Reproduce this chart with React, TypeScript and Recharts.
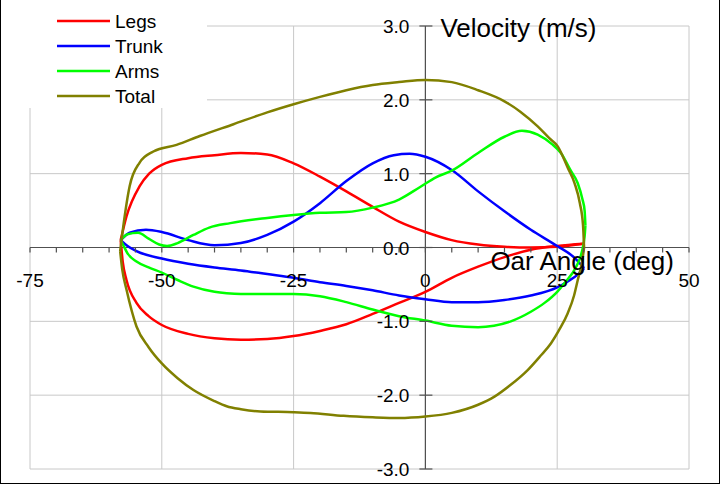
import React from "react"
import { LineChart, Line, XAxis, YAxis, CartesianGrid, ReferenceLine, ReferenceDot } from "recharts"

// oar angle (deg) vs velocity (m/s); each segment loop split into drive (upper) and recovery (lower)
const legsDrive: [number, number][] = [
  [-57.8, 0.1], [-56.7, 0.42], [-54.2, 0.83], [-52.4, 1.0], [-50, 1.12], [-45, 1.21], [-40, 1.25],
  [-35, 1.28], [-30, 1.26], [-25, 1.14], [-20, 0.96], [-15, 0.76], [-10, 0.55], [-5, 0.35], [0, 0.21],
  [5, 0.1], [10, 0.04], [15, 0.01], [20, 0.0], [25, 0.01], [30, 0.05],
]
const legsRecovery: [number, number][] = [
  [-57.8, 0.1], [-57.4, -0.2], [-56.7, -0.44], [-54.8, -0.75], [-52.5, -0.93], [-50, -1.05], [-45, -1.17],
  [-40, -1.23], [-35, -1.25], [-30, -1.24], [-25, -1.2], [-20, -1.13], [-15, -1.04], [-10, -0.9],
  [-5, -0.75], [0, -0.6], [5, -0.41], [10, -0.26], [15, -0.13], [20, -0.03], [25, 0.02], [30, 0.05],
]
const trunkDrive: [number, number][] = [
  [-57.8, 0.1], [-56.1, 0.2], [-53, 0.24], [-50, 0.21], [-45, 0.1], [-40, 0.03], [-35, 0.06], [-30, 0.17],
  [-25, 0.35], [-20, 0.6], [-15, 0.9], [-10, 1.14], [-6, 1.25], [-3, 1.27], [0, 1.23], [5, 1.05],
  [10, 0.76], [15, 0.49], [20, 0.24], [25, 0.02], [28.3, -0.14], [30.1, -0.28],
]
const trunkRecovery: [number, number][] = [
  [-57.8, 0.1], [-56.5, 0.02], [-54.8, -0.05], [-50, -0.15], [-45, -0.22], [-40, -0.27], [-35, -0.31],
  [-30, -0.36], [-25, -0.41], [-20, -0.47], [-15, -0.52], [-10, -0.58], [-5, -0.65], [0, -0.7],
  [5, -0.74], [10, -0.74], [15, -0.71], [20, -0.65], [25, -0.54], [27, -0.46], [29, -0.36], [30.1, -0.28],
]
const armsDrive: [number, number][] = [
  [-57.8, 0.1], [-56.5, 0.18], [-54.5, 0.2], [-52.5, 0.12], [-50.5, 0.04], [-49, 0.02], [-47, 0.06],
  [-44, 0.17], [-41, 0.27], [-37, 0.33], [-30, 0.4], [-25, 0.44], [-20, 0.47], [-15, 0.48], [-10, 0.54],
  [-5, 0.65], [-1, 0.82], [2, 0.95], [5, 1.04], [10, 1.28], [15, 1.5], [18.3, 1.58], [21.3, 1.53],
  [24, 1.4], [25.7, 1.28], [27.5, 1.05], [28.9, 0.87], [29.8, 0.65], [30.2, 0.5], [30.35, 0.3],
]
const armsRecovery: [number, number][] = [
  [-57.8, 0.1], [-57.3, 0.03], [-56.5, -0.08], [-54.8, -0.19], [-52.5, -0.27], [-50, -0.34], [-47, -0.44],
  [-44, -0.53], [-40, -0.6], [-37.7, -0.62], [-35, -0.63], [-30, -0.63], [-25, -0.63], [-20, -0.66],
  [-15, -0.74], [-10, -0.84], [-5, -0.93], [0, -0.99], [5, -1.06], [10, -1.08], [13, -1.06], [16.2, -1.0],
  [20, -0.87], [22.6, -0.75], [25, -0.6], [26.4, -0.48], [28.6, -0.26], [29.6, -0.08], [30.2, 0.15], [30.35, 0.3],
]
const totalDrive: [number, number][] = [
  [-57.9, -0.05], [-57.3, 0.29], [-56.1, 0.83], [-54.2, 1.15], [-51.6, 1.3], [-47.2, 1.39], [-42.8, 1.51],
  [-36.4, 1.67], [-30, 1.83], [-25, 1.94], [-20, 2.04], [-15, 2.13], [-10, 2.2], [-5, 2.24], [0, 2.27],
  [5, 2.24], [10, 2.13], [15, 1.98], [18, 1.84], [21.3, 1.64], [23.5, 1.48], [25.1, 1.37], [27, 1.08],
  [28.3, 0.87], [29.3, 0.6], [29.9, 0.3], [30.1, 0.0],
]
const totalRecovery: [number, number][] = [
  [-57.9, -0.05], [-57.5, -0.3], [-56.7, -0.57], [-54.8, -1.07], [-52.5, -1.35], [-50, -1.57], [-47, -1.77],
  [-44, -1.93], [-40, -2.08], [-37.7, -2.15], [-35, -2.19], [-31.3, -2.22], [-25, -2.23], [-21.8, -2.24],
  [-15.5, -2.28], [-10, -2.3], [-5, -2.31], [0, -2.29], [5, -2.24], [10, -2.13], [13.1, -2.02], [16, -1.87],
  [19.4, -1.66], [21.8, -1.47], [23.8, -1.3], [25.5, -1.1], [27, -0.89], [28.2, -0.65], [28.9, -0.44],
  [29.7, -0.2], [30.1, 0.0],
]

const xLabels = [-75, -50, -25, 0, 25, 50]
const xMinor = [-75, -70, -65, -60, -55, -50, -45, -40, -35, -30, -25, -20, -15, -10, -5, 0, 5, 10, 15, 20, 25, 30, 35, 40, 45, 50]
const yLabels = [-3, -2, -1, 0, 1, 2, 3]

const FONT = "Arial, 'Liberation Sans', sans-serif"
const AXIS = "#505050"
const GRID = "#c8c8c8"

const series = [
  { name: "Legs", color: "#ff0000", drive: legsDrive, recovery: legsRecovery },
  { name: "Trunk", color: "#0000ff", drive: trunkDrive, recovery: trunkRecovery },
  { name: "Arms", color: "#00ff00", drive: armsDrive, recovery: armsRecovery },
  { name: "Total", color: "#808000", drive: totalDrive, recovery: totalRecovery },
]

const toPoints = (pts: [number, number][]) => pts.map(([x, y]) => ({ x, y }))

export default function App() {
  return (
    <div style={{ position: "fixed", left: 0, top: 0, width: 720, height: 484, background: "#fff", fontFamily: FONT }}>
      <LineChart width={720} height={484} margin={{ top: 26, right: 31, bottom: 15, left: 30 }}>
        <XAxis type="number" dataKey="x" domain={[-75, 50]} ticks={xLabels} hide allowDataOverflow />
        <YAxis type="number" dataKey="y" domain={[-3, 3]} ticks={yLabels} hide allowDataOverflow />
        <CartesianGrid stroke={GRID} strokeWidth={1} />
        <ReferenceLine y={0} stroke={AXIS} strokeWidth={1.2} />
        <ReferenceLine x={0} stroke={AXIS} strokeWidth={1.2} />
        {xMinor.map((v) => (
          <ReferenceDot
            key={"xt" + v}
            x={v}
            y={0}
            shape={(p: any) => (
              <g>
                <line x1={p.cx} y1={p.cy} x2={p.cx} y2={p.cy + 5} stroke={AXIS} strokeWidth={1.2} />
                {xLabels.includes(v) && (
                  <text x={p.cx} y={p.cy + 39} textAnchor="middle" fontSize={19} fontFamily={FONT} fill="#000">
                    {v}
                  </text>
                )}
              </g>
            )}
          />
        ))}
        {yLabels.map((v) => (
          <ReferenceDot
            key={"yt" + v}
            x={0}
            y={v}
            shape={(p: any) => (
              <g>
                <line x1={p.cx - 6} y1={p.cy} x2={p.cx + 7} y2={p.cy} stroke={AXIS} strokeWidth={1.2} />
                <text x={p.cx - 16} y={p.cy + 7} textAnchor="end" fontSize={19} fontFamily={FONT} fill="#000">
                  {v.toFixed(1)}
                </text>
              </g>
            )}
          />
        ))}
        {series.flatMap((s) => [
          <Line
            key={s.name + "d"}
            data={toPoints(s.drive)}
            dataKey="y"
            type="monotone"
            stroke={s.color}
            strokeWidth={2.5}
            dot={false}
            activeDot={false}
            isAnimationActive={false}
          />,
          <Line
            key={s.name + "r"}
            data={toPoints(s.recovery)}
            dataKey="y"
            type="monotone"
            stroke={s.color}
            strokeWidth={2.5}
            dot={false}
            activeDot={false}
            isAnimationActive={false}
          />,
        ])}
        <ReferenceDot
          x={0}
          y={3}
          shape={(p: any) => (
            <text x={p.cx + 15} y={p.cy + 11} fontSize={26} fontFamily={FONT} fill="#000">
              Velocity (m/s)
            </text>
          )}
        />
        <ReferenceDot
          x={0}
          y={0}
          shape={(p: any) => (
            <text x={p.cx + 65} y={p.cy + 22} fontSize={26} fontFamily={FONT} fill="#000">
              Oar Angle (deg)
            </text>
          )}
        />
      </LineChart>
      <svg width={207} height={108} style={{ position: "absolute", left: 0, top: 0, background: "#fff" }}>
        {series.map((s, i) => (
          <g key={s.name}>
            <line x1={57} x2={110} y1={21 + i * 25} y2={21 + i * 25} stroke={s.color} strokeWidth={2.5} />
            <text x={115} y={28 + i * 25} fontSize={19} fontFamily={FONT} fill="#000">
              {s.name}
            </text>
          </g>
        ))}
      </svg>
      <div
        style={{
          position: "absolute",
          inset: 0,
          borderLeft: "1px solid #000",
          borderRight: "1px solid #000",
          borderBottom: "1px solid #000",
          pointerEvents: "none",
        }}
      />
    </div>
  )
}
